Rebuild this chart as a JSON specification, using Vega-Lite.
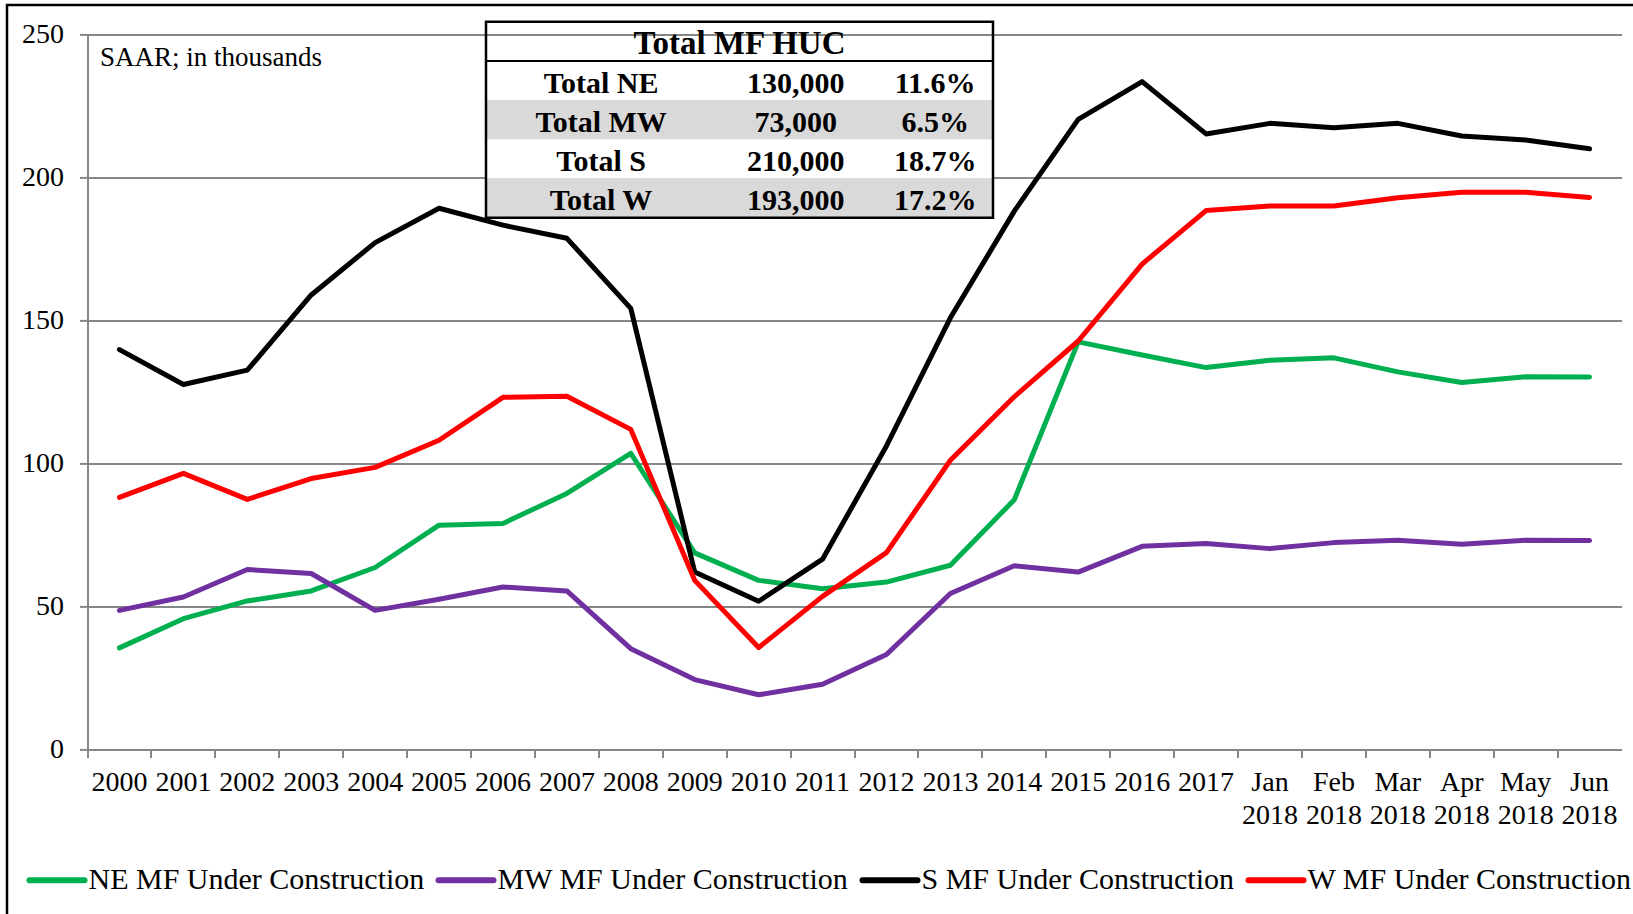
{
  "$schema": "https://vega.github.io/schema/vega-lite/v6.json",
  "width": 1534,
  "height": 715,
  "autosize": {"type": "none"},
  "padding": {"left": 87.5, "top": 34.4, "right": 11.5, "bottom": 164.6},
  "background": "white",
  "config": {"view": {"stroke": null}, "font": "Liberation Serif"},
  "layer": [
    {
      "layer": [
        {
          "data": {"values": [
            {"period": "2000", "series": "NE MF Under Construction", "units": 35.5},
            {"period": "2001", "series": "NE MF Under Construction", "units": 45.7},
            {"period": "2002", "series": "NE MF Under Construction", "units": 51.9},
            {"period": "2003", "series": "NE MF Under Construction", "units": 55.4},
            {"period": "2004", "series": "NE MF Under Construction", "units": 63.6},
            {"period": "2005", "series": "NE MF Under Construction", "units": 78.4},
            {"period": "2006", "series": "NE MF Under Construction", "units": 79.0},
            {"period": "2007", "series": "NE MF Under Construction", "units": 89.5},
            {"period": "2008", "series": "NE MF Under Construction", "units": 103.5},
            {"period": "2009", "series": "NE MF Under Construction", "units": 68.7},
            {"period": "2010", "series": "NE MF Under Construction", "units": 59.1},
            {"period": "2011", "series": "NE MF Under Construction", "units": 56.2},
            {"period": "2012", "series": "NE MF Under Construction", "units": 58.5},
            {"period": "2013", "series": "NE MF Under Construction", "units": 64.4},
            {"period": "2014", "series": "NE MF Under Construction", "units": 87.3},
            {"period": "2015", "series": "NE MF Under Construction", "units": 142.5},
            {"period": "2016", "series": "NE MF Under Construction", "units": 137.9},
            {"period": "2017", "series": "NE MF Under Construction", "units": 133.5},
            {"period": "Jan 2018", "series": "NE MF Under Construction", "units": 136.1},
            {"period": "Feb 2018", "series": "NE MF Under Construction", "units": 136.9},
            {"period": "Mar 2018", "series": "NE MF Under Construction", "units": 132.0},
            {"period": "Apr 2018", "series": "NE MF Under Construction", "units": 128.3},
            {"period": "May 2018", "series": "NE MF Under Construction", "units": 130.3},
            {"period": "Jun 2018", "series": "NE MF Under Construction", "units": 130.2},
            {"period": "2000", "series": "MW MF Under Construction", "units": 48.6},
            {"period": "2001", "series": "MW MF Under Construction", "units": 53.3},
            {"period": "2002", "series": "MW MF Under Construction", "units": 62.9},
            {"period": "2003", "series": "MW MF Under Construction", "units": 61.5},
            {"period": "2004", "series": "MW MF Under Construction", "units": 48.6},
            {"period": "2005", "series": "MW MF Under Construction", "units": 52.5},
            {"period": "2006", "series": "MW MF Under Construction", "units": 56.8},
            {"period": "2007", "series": "MW MF Under Construction", "units": 55.4},
            {"period": "2008", "series": "MW MF Under Construction", "units": 35.2},
            {"period": "2009", "series": "MW MF Under Construction", "units": 24.4},
            {"period": "2010", "series": "MW MF Under Construction", "units": 19.1},
            {"period": "2011", "series": "MW MF Under Construction", "units": 22.8},
            {"period": "2012", "series": "MW MF Under Construction", "units": 33.2},
            {"period": "2013", "series": "MW MF Under Construction", "units": 54.5},
            {"period": "2014", "series": "MW MF Under Construction", "units": 64.2},
            {"period": "2015", "series": "MW MF Under Construction", "units": 62.0},
            {"period": "2016", "series": "MW MF Under Construction", "units": 71.0},
            {"period": "2017", "series": "MW MF Under Construction", "units": 72.0},
            {"period": "Jan 2018", "series": "MW MF Under Construction", "units": 70.2},
            {"period": "Feb 2018", "series": "MW MF Under Construction", "units": 72.3},
            {"period": "Mar 2018", "series": "MW MF Under Construction", "units": 73.1},
            {"period": "Apr 2018", "series": "MW MF Under Construction", "units": 71.7},
            {"period": "May 2018", "series": "MW MF Under Construction", "units": 73.1},
            {"period": "Jun 2018", "series": "MW MF Under Construction", "units": 73.0},
            {"period": "2000", "series": "S MF Under Construction", "units": 139.8},
            {"period": "2001", "series": "S MF Under Construction", "units": 127.6},
            {"period": "2002", "series": "S MF Under Construction", "units": 132.6},
            {"period": "2003", "series": "S MF Under Construction", "units": 158.9},
            {"period": "2004", "series": "S MF Under Construction", "units": 177.2},
            {"period": "2005", "series": "S MF Under Construction", "units": 189.2},
            {"period": "2006", "series": "S MF Under Construction", "units": 183.3},
            {"period": "2007", "series": "S MF Under Construction", "units": 178.7},
            {"period": "2008", "series": "S MF Under Construction", "units": 154.2},
            {"period": "2009", "series": "S MF Under Construction", "units": 62.0},
            {"period": "2010", "series": "S MF Under Construction", "units": 51.8},
            {"period": "2011", "series": "S MF Under Construction", "units": 66.5},
            {"period": "2012", "series": "S MF Under Construction", "units": 106.1},
            {"period": "2013", "series": "S MF Under Construction", "units": 150.9},
            {"period": "2014", "series": "S MF Under Construction", "units": 188.2},
            {"period": "2015", "series": "S MF Under Construction", "units": 220.3},
            {"period": "2016", "series": "S MF Under Construction", "units": 233.5},
            {"period": "2017", "series": "S MF Under Construction", "units": 215.2},
            {"period": "Jan 2018", "series": "S MF Under Construction", "units": 218.9},
            {"period": "Feb 2018", "series": "S MF Under Construction", "units": 217.4},
            {"period": "Mar 2018", "series": "S MF Under Construction", "units": 218.9},
            {"period": "Apr 2018", "series": "S MF Under Construction", "units": 214.5},
            {"period": "May 2018", "series": "S MF Under Construction", "units": 213.1},
            {"period": "Jun 2018", "series": "S MF Under Construction", "units": 210.0},
            {"period": "2000", "series": "W MF Under Construction", "units": 88.1},
            {"period": "2001", "series": "W MF Under Construction", "units": 96.5},
            {"period": "2002", "series": "W MF Under Construction", "units": 87.4},
            {"period": "2003", "series": "W MF Under Construction", "units": 94.7},
            {"period": "2004", "series": "W MF Under Construction", "units": 98.6},
            {"period": "2005", "series": "W MF Under Construction", "units": 108.1},
            {"period": "2006", "series": "W MF Under Construction", "units": 123.1},
            {"period": "2007", "series": "W MF Under Construction", "units": 123.5},
            {"period": "2008", "series": "W MF Under Construction", "units": 111.9},
            {"period": "2009", "series": "W MF Under Construction", "units": 59.1},
            {"period": "2010", "series": "W MF Under Construction", "units": 35.6},
            {"period": "2011", "series": "W MF Under Construction", "units": 53.5},
            {"period": "2012", "series": "W MF Under Construction", "units": 68.8},
            {"period": "2013", "series": "W MF Under Construction", "units": 101.1},
            {"period": "2014", "series": "W MF Under Construction", "units": 123.3},
            {"period": "2015", "series": "W MF Under Construction", "units": 142.8},
            {"period": "2016", "series": "W MF Under Construction", "units": 169.7},
            {"period": "2017", "series": "W MF Under Construction", "units": 188.4},
            {"period": "Jan 2018", "series": "W MF Under Construction", "units": 190.0},
            {"period": "Feb 2018", "series": "W MF Under Construction", "units": 190.0},
            {"period": "Mar 2018", "series": "W MF Under Construction", "units": 192.9},
            {"period": "Apr 2018", "series": "W MF Under Construction", "units": 194.8},
            {"period": "May 2018", "series": "W MF Under Construction", "units": 194.8},
            {"period": "Jun 2018", "series": "W MF Under Construction", "units": 193.0}
          ]},
          "mark": {"type": "line", "strokeWidth": 5, "strokeCap": "round", "strokeJoin": "round"},
          "encoding": {
            "x": {
              "field": "period", "type": "ordinal", "bandPosition": 0.5,
              "scale": {"type": "band", "paddingInner": 0, "paddingOuter": 0,
                "domain": ["2000","2001","2002","2003","2004","2005","2006","2007","2008","2009","2010","2011","2012","2013","2014","2015","2016","2017","Jan 2018","Feb 2018","Mar 2018","Apr 2018","May 2018","Jun 2018"]},
              "axis": {
                "title": null, "bandPosition": 0,
                "labelExpr": "split(datum.label, ' ')",
                "labelFont": "Liberation Serif", "labelFontSize": 28, "labelColor": "black",
                "labelLineHeight": 33, "labelPadding": 11, "labelBaseline": "top", "labelAngle": 0,
                "labelOverlap": false, "labelBound": false, "labelFlush": false,
                "domainColor": "#868686", "domainWidth": 2,
                "tickColor": "#868686", "tickWidth": 2, "tickSize": 8, "grid": false
              }
            },
            "y": {
              "field": "units", "type": "quantitative",
              "scale": {"domain": [0, 250], "nice": false},
              "axis": {
                "title": null, "values": [0, 50, 100, 150, 200, 250],
                "labelFont": "Liberation Serif", "labelFontSize": 28, "labelColor": "black",
                "labelPadding": 16,
                "domainColor": "#868686", "domainWidth": 2,
                "tickColor": "#868686", "tickWidth": 2, "tickSize": 8,
                "grid": true, "gridColor": "#868686", "gridWidth": 2
              }
            },
            "color": {
              "field": "series", "type": "nominal",
              "scale": {
                "domain": ["NE MF Under Construction", "MW MF Under Construction", "S MF Under Construction", "W MF Under Construction"],
                "range": ["#00B050", "#7030A0", "#000000", "#FF0000"]
              },
              "legend": {
                "title": null, "orient": "none", "legendX": -61, "legendY": 815,
                "direction": "horizontal", "columns": 4,
                "symbolType": "stroke", "symbolSize": 3025, "symbolStrokeWidth": 6,
                "labelFont": "Liberation Serif", "labelFontSize": 30, "labelColor": "black",
                "labelOffset": 1, "columnPadding": 2, "labelLimit": 0,
                "encode": {"symbols": {"update": {"strokeCap": {"value": "round"}}}}
              }
            }
          }
        },
        {
          "data": {"values": [{"note": "SAAR; in thousands"}]},
          "mark": {"type": "text", "align": "left", "baseline": "alphabetic", "dx": 12.5, "dy": 32, "fontSize": 27, "font": "Liberation Serif", "color": "black"},
          "encoding": {
            "x": {"datum": "2000", "type": "ordinal", "bandPosition": 0},
            "y": {"datum": 250, "type": "quantitative"},
            "text": {"field": "note"}
          }
        }
      ]
    },
    {
      "data": {"values": [
        {"region": "Total NE", "units": "130,000", "share": "11.6%"},
        {"region": "Total MW", "units": "73,000", "share": "6.5%"},
        {"region": "Total S", "units": "210,000", "share": "18.7%"},
        {"region": "Total W", "units": "193,000", "share": "17.2%"}
      ]},
      "encoding": {
        "y": {"field": "region", "type": "nominal",
          "scale": {"type": "band", "domain": ["Total MF HUC", "Total NE", "Total MW", "Total S", "Total W"], "range": [-12.7, 183.3], "paddingInner": 0, "paddingOuter": 0},
          "axis": null}
      },
      "layer": [
        {
          "mark": {"type": "rect", "fill": "white"},
          "encoding": {
            "x": {"datum": 0, "type": "quantitative", "scale": {"domain": [0, 1], "range": [398.5, 905.5]}, "axis": null},
            "x2": {"datum": 1}
          }
        },
        {
          "transform": [{"filter": {"field": "region", "oneOf": ["Total MW", "Total W"]}}],
          "mark": {"type": "rect", "fill": "#D9D9D9"},
          "encoding": {
            "x": {"datum": 0, "type": "quantitative"},
            "x2": {"datum": 1}
          }
        },
        {
          "mark": {"type": "text", "fontWeight": "bold", "fontSize": 30, "font": "Liberation Serif", "baseline": "middle", "align": "center", "dy": 3, "color": "black"},
          "encoding": {"x": {"datum": 0.227, "type": "quantitative"}, "text": {"field": "region"}}
        },
        {
          "mark": {"type": "text", "fontWeight": "bold", "fontSize": 30, "font": "Liberation Serif", "baseline": "middle", "align": "center", "dy": 3, "color": "black"},
          "encoding": {"x": {"datum": 0.611, "type": "quantitative"}, "text": {"field": "units"}}
        },
        {
          "mark": {"type": "text", "fontWeight": "bold", "fontSize": 30, "font": "Liberation Serif", "baseline": "middle", "align": "center", "dy": 3, "color": "black"},
          "encoding": {"x": {"datum": 0.886, "type": "quantitative"}, "text": {"field": "share"}}
        },
        {
          "data": {"values": [{"region": "Total MF HUC"}]},
          "mark": {"type": "text", "fontWeight": "bold", "fontSize": 33, "font": "Liberation Serif", "baseline": "middle", "align": "center", "dy": 3, "color": "black"},
          "encoding": {"x": {"datum": 0.5, "type": "quantitative"}, "text": {"field": "region"}}
        }
      ]
    },
    {
      "data": {"values": [{"table": "Total MF HUC"}]},
      "layer": [
        {
          "mark": {"type": "rect", "filled": false, "stroke": "black", "strokeWidth": 2.5},
          "encoding": {
            "x": {"datum": 0, "type": "quantitative", "scale": {"domain": [0, 1], "range": [398.5, 905.5]}, "axis": null},
            "x2": {"datum": 1},
            "y": {"datum": 0, "type": "quantitative", "scale": {"domain": [0, 1], "range": [-12.7, 183.3]}, "axis": null},
            "y2": {"datum": 1}
          }
        },
        {
          "mark": {"type": "rule", "stroke": "black", "strokeWidth": 2},
          "encoding": {
            "x": {"datum": 0, "type": "quantitative"},
            "x2": {"datum": 1},
            "y": {"datum": 0.2, "type": "quantitative"}
          }
        }
      ]
    },
    {
      "data": {"values": [{"frame": "chart"}]},
      "mark": {"type": "rect", "filled": false, "stroke": "black", "strokeWidth": 2.5},
      "encoding": {
        "x": {"datum": 0, "type": "quantitative", "scale": {"domain": [0, 1], "range": [-80.5, 1600]}, "axis": null},
        "x2": {"datum": 1},
        "y": {"datum": 0, "type": "quantitative", "scale": {"domain": [0, 1], "range": [-29.5, 900]}, "axis": null},
        "y2": {"datum": 1}
      }
    }
  ],
  "resolve": {"scale": {"x": "independent", "y": "independent"}}
}
